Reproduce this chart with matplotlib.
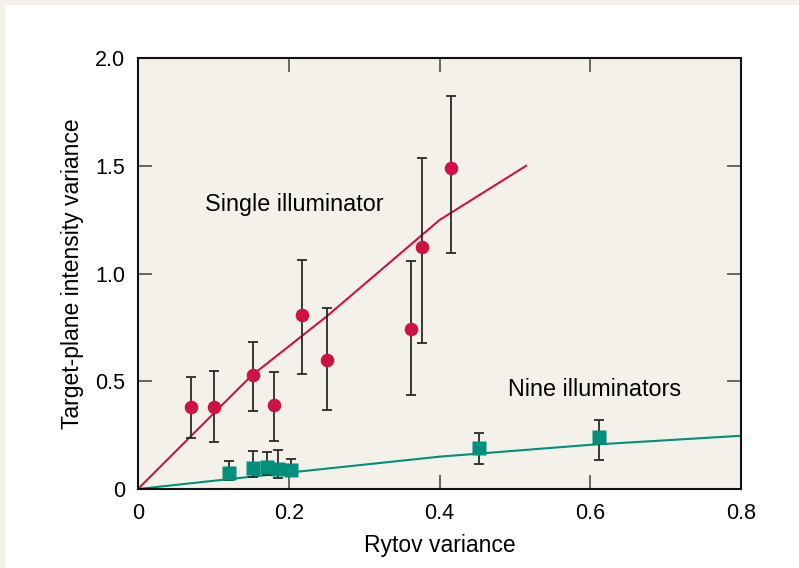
import matplotlib
matplotlib.use('Agg')
import matplotlib.pyplot as plt
from matplotlib.patches import Rectangle

plt.rcParams['font.family'] = ['Liberation Sans', 'DejaVu Sans']

# single illuminator measurements
single_x = [0.070, 0.101, 0.152, 0.181, 0.218, 0.251, 0.362, 0.377, 0.415]
single_y = [0.379, 0.380, 0.527, 0.388, 0.807, 0.600, 0.744, 1.124, 1.491]
single_lo = [0.235, 0.219, 0.363, 0.224, 0.534, 0.367, 0.436, 0.679, 1.097]
single_hi = [0.521, 0.549, 0.684, 0.544, 1.063, 0.841, 1.059, 1.537, 1.825]

# nine illuminators measurements
nine_x = [0.121, 0.152, 0.171, 0.186, 0.203, 0.453, 0.612]
nine_y = [0.073, 0.097, 0.102, 0.094, 0.088, 0.189, 0.240]
nine_lo = [0.040, 0.057, 0.065, 0.050, 0.060, 0.115, 0.133]
nine_hi = [0.131, 0.178, 0.170, 0.180, 0.141, 0.261, 0.320]

# theory curves
single_fit_x = [0, 0.15, 0.25, 0.40, 0.515]
single_fit_y = [0, 0.524, 0.80, 1.248, 1.50]
nine_fit_x = [0, 0.2, 0.4, 0.6, 0.8]
nine_fit_y = [0, 0.076, 0.150, 0.205, 0.247]

xticks = [0, 0.2, 0.4, 0.6, 0.8]
xticklabels = ['0', '0.2', '0.4', '0.6', '0.8']
yticks = [0, 0.5, 1.0, 1.5, 2.0]
yticklabels = ['0', '0.5', '1.0', '1.5', '2.0']

red = '#cf1244'
teal = '#00907c'
beige = '#f4f1ea'

fig = plt.figure(figsize=(7.99, 5.68), dpi=100)
fig.patch.set_facecolor(beige)
panel = Rectangle((5 / 799, 0), 1, 563 / 568, transform=fig.transFigure,
                  facecolor='white', edgecolor='none', zorder=-10)
fig.add_artist(panel)

ax = fig.add_axes([138 / 799, 79 / 568, 603 / 799, 431 / 568])
ax.set_zorder(1)
ax.set_facecolor(beige)

ax.plot(single_fit_x, single_fit_y, color=red, lw=1.5, zorder=2)
ax.plot(nine_fit_x, nine_fit_y, color=teal, lw=1.5, zorder=2)

s_err = [[y - l for y, l in zip(single_y, single_lo)],
         [h - y for y, h in zip(single_y, single_hi)]]
n_err = [[y - l for y, l in zip(nine_y, nine_lo)],
         [h - y for y, h in zip(nine_y, nine_hi)]]

ax.errorbar(single_x, single_y, yerr=s_err, fmt='none', ecolor='#2a2a2a',
            elinewidth=1.3, capsize=3.5, capthick=1.3, zorder=3)
ax.plot(single_x, single_y, 'o', color=red, ms=9.8, mec='none', zorder=4)
ax.errorbar(nine_x, nine_y, yerr=n_err, fmt='none', ecolor='#2a2a2a',
            elinewidth=1.3, capsize=3.5, capthick=1.3, zorder=3)
ax.plot(nine_x, nine_y, 's', color=teal, ms=9.5, mec='none', zorder=4)

ax.set_xlim(0, 0.8)
ax.set_ylim(0, 2.0)
ax.set_xticks(xticks)
ax.set_xticklabels(xticklabels, fontsize=15.5)
ax.set_yticks(yticks)
ax.set_yticklabels(yticklabels, fontsize=15.5)
ax.tick_params(direction='in', length=10, width=1.4, color='#666666',
               top=True, right=True)
ax.tick_params(axis='x', pad=10)
ax.tick_params(axis='y', pad=9)

for sp in ax.spines.values():
    sp.set_linewidth(1.5)
    sp.set_color('#111111')

ax.set_xlabel('Rytov variance', fontsize=16.5, labelpad=7)
ax.set_ylabel('Target-plane intensity variance', fontsize=16.5, labelpad=8)

ax.text(0.089, 1.32, 'Single illuminator', fontsize=16.8, va='center')
ax.text(0.491, 0.46, 'Nine illuminators', fontsize=16.8, va='center')

fig.savefig('out.png', dpi=100, facecolor=fig.get_facecolor())
